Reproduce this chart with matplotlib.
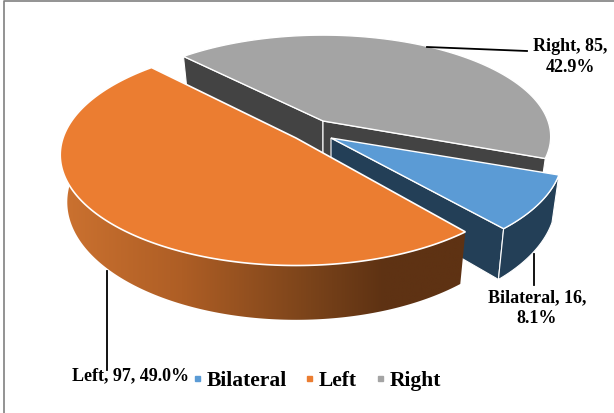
import numpy as np
import matplotlib
matplotlib.use("Agg")
import matplotlib.pyplot as plt
from matplotlib.colors import LinearSegmentedColormap
from matplotlib.lines import Line2D
from matplotlib.patches import Polygon

# Data
categories = ["Bilateral", "Left", "Right"]
values = [16, 97, 85]

# Colours
top_colors = ["#5B9BD5", "#EB7D31", "#A4A4A4"]
wall_colors = ["#233F57", "#5E3213", "#434343"]

plt.rcParams["font.family"] = ["Liberation Serif", "DejaVu Serif"]

# Pie geometry, in pixels: each slice is pulled out on its own
start_angle = 21.0
apex = {"Bilateral": (331, 139), "Left": (296, 139), "Right": (323, 122)}
radius_x = {"Bilateral": 229.0, "Left": 233.0, "Right": 225.0}
radius_y = {"Bilateral": 108.0, "Left": 108.0, "Right": 99.0}
turn = {"Bilateral": -2.0, "Left": 0.0, "Right": 0.0}
depth = {"Bilateral": 45.0, "Left": 46.0, "Right": 44.0}
persp = 0.153
shrink = 0.97

total = sum(values)
fracs = [v / total for v in values]
edges = start_angle + 360 * np.concatenate([[0], np.cumsum(fracs)])


def top_pts(name, angles):
    # project points on the pie rim on to the screen
    cx, cy = apex[name]
    t = np.radians(angles + turn[name])
    u, v = np.cos(t), np.sin(t)
    s = 1 / (1 - persp * v)
    return cx + radius_x[name] * u * s, cy + radius_y[name] * v * s, s


def bottom_pts(name, x, y, s):
    cx = apex[name][0]
    return cx + (x - cx) * shrink, y + depth[name] * s


def wall_side(name, angle):
    # flat cut face of a slice, from the apex to the rim
    cx, cy = apex[name]
    x, y, s = top_pts(name, np.array([angle]))
    bx, by = bottom_pts(name, x, y, s)
    return [(cx, cy), (x[0], y[0]), (bx[0], by[0]), (cx, cy + depth[name])]


def rim(name, a0, a1):
    ang = np.linspace(a0, a1, 200)
    x, y, s = top_pts(name, ang)
    bx, by = bottom_pts(name, x, y, s)
    return np.r_[x, bx[::-1]], np.r_[y, by[::-1]]


def top_face(name, a0, a1):
    x, y, s = top_pts(name, np.linspace(a0, a1, 200))
    cx, cy = apex[name]
    return np.c_[np.r_[cx, x], np.r_[cy, y]]


fig = plt.figure(figsize=(6.14, 4.14), dpi=100)
ax = fig.add_axes([0, 0, 1, 1])
ax.set_xlim(0, 614)
ax.set_ylim(414, 0)
ax.axis("off")

# Chart frame
ax.plot([4, 4, 614], [414, 2, 2], color="#808080", lw=1.2, zorder=1)

# Right slice (back)
a0, a1 = edges[2], edges[3]
for ang in [a0, a1]:
    ax.add_patch(Polygon(wall_side("Right", ang), fc=wall_colors[2], ec="white", lw=0.8, zorder=2))
ax.add_patch(Polygon(top_face("Right", a0, a1), fc=top_colors[2], ec="white", lw=1.0, zorder=3))

# Bilateral slice
a0, a1 = edges[0], edges[1]
ax.add_patch(Polygon(wall_side("Bilateral", a1), fc=wall_colors[0], ec="white", lw=0.8, zorder=4))
xr, yr = rim("Bilateral", a0, a1)
ax.add_patch(Polygon(np.c_[xr, yr], fc=wall_colors[0], ec="white", lw=0.8, zorder=4))
ax.add_patch(Polygon(top_face("Bilateral", a0, a1), fc=top_colors[0], ec="white", lw=1.0, zorder=5))

# Left slice, rim with a horizontal gradient
a0, a1 = edges[1], edges[2]
xr, yr = rim("Left", a0, a1)
rim_patch = Polygon(np.c_[xr, yr], fc="none", ec="none", zorder=6)
ax.add_patch(rim_patch)
grad = LinearSegmentedColormap.from_list(
    "rim", [(0, "#CC7230"), (0.3, "#AE5E25"), (0.62, "#7A431A"), (0.8, "#5E3213"), (1, "#5E3213")])
im = ax.imshow(np.linspace(0, 1, 256)[None, :], cmap=grad, aspect="auto",
               extent=[60, 465, 330, 60], zorder=6)
im.set_clip_path(rim_patch)
ax.set_xlim(0, 614)
ax.set_ylim(414, 0)
ax.add_patch(Polygon(top_face("Left", a0, a1), fc=top_colors[1], ec="white", lw=1.2, zorder=7))

# Data labels with leader lines
pct = [f"{100 * f:.1f}%" for f in fracs]
ax.plot([427, 527], [48, 52], color="black", lw=1.3, zorder=8)
ax.plot([107, 107], [272, 371], color="black", lw=1.3, zorder=8)
ax.plot([534, 534], [255, 286], color="black", lw=1.3, zorder=8)
ax.text(570, 57, f"{categories[2]}, {values[2]},\n{pct[2]}", ha="center", va="center",
        fontsize=13, fontweight="bold", linespacing=1.3, zorder=9)
ax.text(537, 308, f"{categories[0]}, {values[0]},\n{pct[0]}", ha="center", va="center",
        fontsize=13, fontweight="bold", linespacing=1.3, zorder=9)
ax.text(131, 376, f"{categories[1]}, {values[1]}, {pct[1]}", ha="center", va="center",
        fontsize=13, fontweight="bold", zorder=9)

# Legend
handles = [Line2D([], [], ls="none", marker="s", ms=3.6, color=c) for c in top_colors]
ax.legend(handles, categories, loc="center", bbox_to_anchor=(314 / 614, 1 - 381 / 414),
          ncol=3, frameon=False, prop={"size": 15.5, "weight": "bold"},
          handletextpad=0.0, columnspacing=0.6, handlelength=0.9, borderpad=0)

fig.savefig("out.png", dpi=100)
